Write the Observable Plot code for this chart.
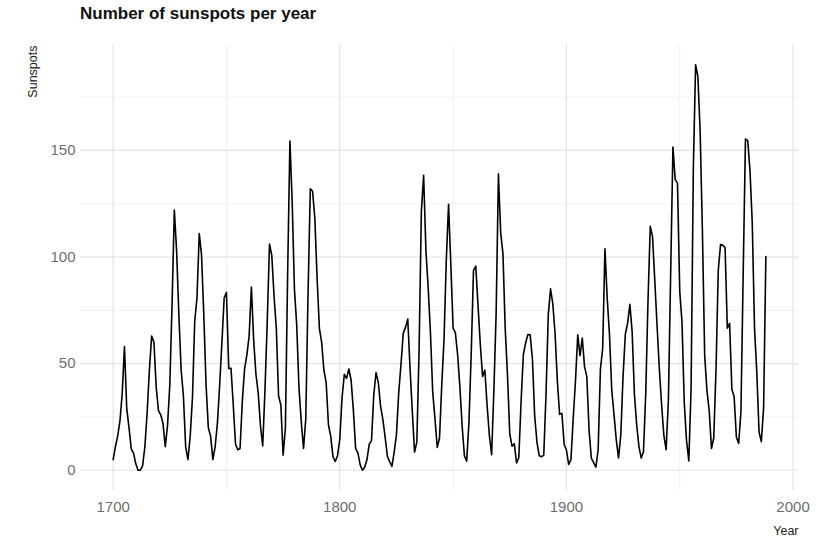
<!DOCTYPE html>
<html>
<head>
<meta charset="utf-8">
<script src="https://cdn.jsdelivr.net/npm/d3@7"></script>
<script src="https://cdn.jsdelivr.net/npm/@observablehq/plot@0.6"></script>
<style>
  html, body { margin: 0; padding: 0; background: #fff; }
  #title { height: 36px; box-sizing: border-box; padding: 4px 0 0 80px; font: bold 17px "Liberation Sans", Arial, sans-serif; color: #111; }
</style>
</head>
<body>
<div id="title">Number of sunspots per year</div>
<div id="chart"></div>
<script>
const startYear = 1700;
const sunspots = [
  5, 11, 16, 23, 36, 58, 29, 20, 10, 8,
  3, 0, 0, 2, 11, 27, 47, 63, 60, 39,
  28, 26, 22, 11, 21, 40, 78, 122, 103, 73,
  47, 35, 11, 5, 16, 34, 70, 81, 111, 101,
  73, 40, 20, 16, 5, 11, 22, 40, 60, 80.9,
  83.4, 47.7, 47.8, 30.7, 12.2, 9.6, 10.2, 32.4, 47.6, 54.0,
  62.9, 85.9, 61.2, 45.1, 36.4, 20.9, 11.4, 37.8, 69.8, 106.1,
  100.8, 81.6, 66.5, 34.8, 30.6, 7.0, 19.8, 92.5, 154.4, 125.9,
  84.8, 68.1, 38.5, 22.8, 10.2, 24.1, 82.9, 132.0, 130.9, 118.1,
  89.9, 66.6, 60.0, 46.9, 41.0, 21.3, 16.0, 6.4, 4.1, 6.8,
  14.5, 34.0, 45.0, 43.1, 47.5, 42.2, 28.1, 10.1, 8.1, 2.5,
  0.0, 1.4, 5.0, 12.2, 13.9, 35.4, 45.8, 41.1, 30.1, 23.9,
  15.6, 6.6, 4.0, 1.8, 8.5, 16.6, 36.3, 49.6, 64.2, 67.0,
  70.9, 47.8, 27.5, 8.5, 13.2, 56.9, 121.5, 138.3, 103.2, 85.7,
  64.6, 36.7, 24.2, 10.7, 15.0, 40.1, 61.5, 98.5, 124.7, 96.3,
  66.6, 64.5, 54.1, 39.0, 20.6, 6.7, 4.3, 22.7, 54.8, 93.8,
  95.8, 77.2, 59.1, 44.0, 47.0, 30.5, 16.3, 7.3, 37.6, 74.0,
  139.0, 111.2, 101.6, 66.2, 44.7, 17.0, 11.3, 12.4, 3.4, 6.0,
  32.3, 54.3, 59.7, 63.7, 63.5, 52.2, 25.4, 13.1, 6.8, 6.3,
  7.1, 35.6, 73.0, 85.1, 78.0, 64.0, 41.8, 26.2, 26.7, 12.1,
  9.5, 2.7, 5.0, 24.4, 42.0, 63.5, 53.8, 62.0, 48.5, 43.9,
  18.6, 5.7, 3.6, 1.4, 9.6, 47.4, 57.1, 103.9, 80.6, 63.6,
  37.6, 26.1, 14.2, 5.8, 16.7, 44.3, 63.9, 69.0, 77.8, 64.9,
  35.7, 21.2, 11.1, 5.7, 8.7, 36.1, 79.7, 114.4, 109.6, 88.8,
  67.8, 47.5, 30.6, 16.3, 9.6, 33.2, 92.6, 151.6, 136.3, 134.7,
  83.9, 69.4, 31.5, 13.9, 4.4, 38.0, 141.7, 190.2, 184.8, 159.0,
  112.3, 53.9, 37.5, 27.9, 10.2, 15.1, 47.0, 93.8, 105.9, 105.5,
  104.5, 66.6, 68.9, 38.0, 34.5, 15.5, 12.6, 27.5, 92.5, 155.4,
  154.6, 140.5, 115.9, 66.6, 45.9, 17.9, 13.4, 29.2, 100.2
];
const xTicks = [1700, 1800, 1900, 2000];
const xMinor = [1750, 1850, 1950];
const yTicks = [0, 50, 100, 150];
const yMinor = [25, 75, 125, 175];
const xLabel = "Year";
const yLabel = "Sunspots";

const data = sunspots.map((v, i) => ({year: startYear + i, value: v}));

// ggplot-style 5% expansion
const xr = [startYear, startYear + sunspots.length - 1];
const yr = [d3.min(sunspots), d3.max(sunspots)];
const xPad = (xr[1] - xr[0]) * 0.05, yPad = (yr[1] - yr[0]) * 0.05;

const chart = Plot.plot({
  width: 826,
  height: 501,
  marginTop: 8,
  marginBottom: 47,
  marginLeft: 80,
  marginRight: 28,
  style: {fontFamily: '"Liberation Sans", Arial, sans-serif', background: "#fff"},
  x: {domain: [xr[0] - xPad, xr[1] + xPad], axis: null},
  y: {domain: [yr[0] - yPad, yr[1] + yPad], axis: null},
  marks: [
    Plot.ruleY(yMinor, {stroke: "#efefef", strokeWidth: 0.9}),
    Plot.ruleX(xMinor, {stroke: "#efefef", strokeWidth: 0.9}),
    Plot.ruleY(yTicks, {stroke: "#e3e3e3", strokeWidth: 1.2}),
    Plot.ruleX(xTicks, {stroke: "#e3e3e3", strokeWidth: 1.2}),
    Plot.axisX(xTicks, {tickSize: 0, tickPadding: 11, fontSize: 15, fill: "#6e6e6e", label: null, tickFormat: d3.format("d")}),
    Plot.axisY(yTicks, {tickSize: 0, tickPadding: 5, fontSize: 15, fill: "#6e6e6e", label: null, tickFormat: d3.format("d")}),
    Plot.line(data, {x: "year", y: "value", stroke: "#000", strokeWidth: 1.6}),
    Plot.text([yLabel], {text: d => d, frameAnchor: "top-left", rotate: -90, textAnchor: "end", dx: -52, dy: 1, fontSize: 12.5, fill: "#222"}),
    Plot.text([xLabel], {text: d => d, frameAnchor: "bottom-right", textAnchor: "end", lineAnchor: "bottom", dy: 44, fontSize: 12.5, fill: "#222"})
  ]
});
document.getElementById("chart").appendChild(chart);
</script>
</body>
</html>
